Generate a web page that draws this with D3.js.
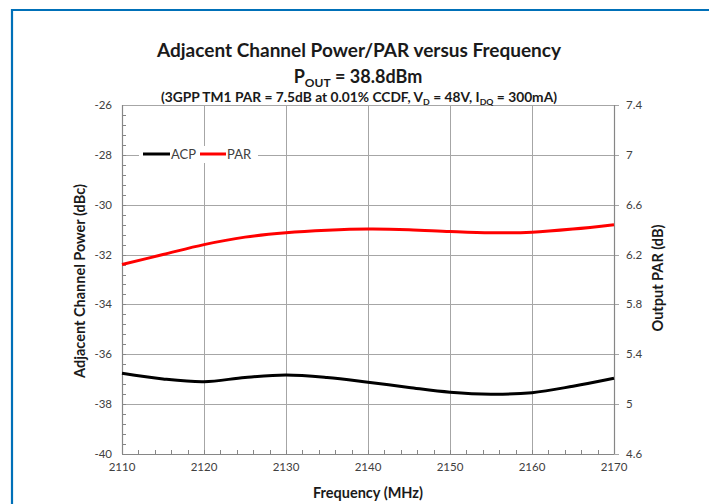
<!DOCTYPE html>
<html><head><meta charset="utf-8">
<script src="https://cdn.jsdelivr.net/npm/d3@7"></script>
<style>body{margin:0;background:#fff}svg{display:block}text{font-family:Lato,"Open Sans",sans-serif}</style>
</head><body><svg id="c" width="709" height="504"></svg>
<script>
const freqs = [2110,2115,2120,2125,2130,2135,2140,2145,2150,2155,2160,2165,2170];
const acp   = [-36.76,-36.99,-37.10,-36.93,-36.83,-36.93,-37.12,-37.33,-37.52,-37.60,-37.54,-37.28,-36.96];
const par   = [6.12,6.20,6.28,6.34,6.375,6.395,6.405,6.40,6.385,6.375,6.38,6.405,6.44];
const xTicks = [2110,2120,2130,2140,2150,2160,2170];
const leftTicks = [-26,-28,-30,-32,-34,-36,-38,-40];
const rightTicks = [7.4,7,6.6,6.2,5.8,5.4,5,4.6];
const seriesNames = ["ACP","PAR"];
const seriesColors = ["#000000","#ff0000"];

const svg = d3.select("#c");
const L=122,R=614,T=105,B=454;
const x = d3.scaleLinear().domain([2110,2170]).range([L,R]);
const yL = d3.scaleLinear().domain([-40,-26]).range([B,T]);
const yR = d3.scaleLinear().domain([4.6,7.4]).range([B,T]);

// frame border
svg.append("path").attr("d","M12,504 L12,10 L709,10").attr("fill","none").attr("stroke","#0070b8").attr("stroke-width",2.2);

const grid = svg.append("g").attr("stroke","#a6a6a6").attr("stroke-width",1);
leftTicks.forEach(v=>{ if(v!==-40) grid.append("line").attr("x1",L).attr("x2",R+5).attr("y1",Math.round(yL(v))+0.5).attr("y2",Math.round(yL(v))+0.5);});
xTicks.forEach(v=>{ if(v!==2110 && v!==2170) grid.append("line").attr("x1",Math.round(x(v))+0.5).attr("x2",Math.round(x(v))+0.5).attr("y1",T).attr("y2",B);});
rightTicks.forEach(v=>grid.append("line").attr("x1",R).attr("x2",R+5).attr("y1",Math.round(yR(v))+0.5).attr("y2",Math.round(yR(v))+0.5));

// minor ticks
const minor = svg.append("g").attr("stroke","#868686").attr("stroke-width",1);
d3.range(-40,-26.01,0.4).forEach(v=>minor.append("line").attr("x1",L).attr("x2",L+4).attr("y1",Math.round(yL(v))+0.5).attr("y2",Math.round(yL(v))+0.5));
d3.range(2110,2170.01,2).forEach(v=>minor.append("line").attr("x1",Math.round(x(v))+0.5).attr("x2",Math.round(x(v))+0.5).attr("y1",B).attr("y2",B-4));

// axis lines
const ax = svg.append("g").attr("stroke","#868686").attr("stroke-width",1.2).attr("fill","none");
ax.append("line").attr("x1",L+0.5).attr("x2",L+0.5).attr("y1",T).attr("y2",B);
ax.append("line").attr("x1",R+0.5).attr("x2",R+0.5).attr("y1",T).attr("y2",B);
ax.append("line").attr("x1",L).attr("x2",R).attr("y1",B+0.5).attr("y2",B+0.5);

// tick labels
const tl = svg.append("g").attr("fill","#404040").attr("font-size",11.5);
leftTicks.forEach(v=>tl.append("text").attr("x",112).attr("y",yL(v)+4).attr("text-anchor","end").text(v));
rightTicks.forEach(v=>tl.append("text").attr("x",626).attr("y",yR(v)+4).attr("text-anchor","start").text(v));
xTicks.forEach(v=>tl.append("text").attr("x",x(v)).attr("y",471).attr("text-anchor","middle").text(v));

// lines
const lineL = d3.line().x((d,i)=>x(freqs[i])).y(d=>yL(d)).curve(d3.curveCatmullRom.alpha(0.5));
const lineR = d3.line().x((d,i)=>x(freqs[i])).y(d=>yR(d)).curve(d3.curveCatmullRom.alpha(0.5));
svg.append("path").attr("d",lineL(acp)).attr("fill","none").attr("stroke",seriesColors[0]).attr("stroke-width",3);
svg.append("path").attr("d",lineR(par)).attr("fill","none").attr("stroke",seriesColors[1]).attr("stroke-width",3);

// legend
const lg = svg.append("g");
lg.append("rect").attr("x",139).attr("y",146).attr("width",119).attr("height",17).attr("fill","#fff");
lg.append("line").attr("x1",143).attr("x2",170).attr("y1",154).attr("y2",154).attr("stroke",seriesColors[0]).attr("stroke-width",3);
lg.append("text").attr("x",171).attr("y",159).attr("font-size",13).attr("fill","#404040").text(seriesNames[0]);
lg.append("line").attr("x1",200).attr("x2",226).attr("y1",154).attr("y2",154).attr("stroke",seriesColors[1]).attr("stroke-width",3);
lg.append("text").attr("x",227).attr("y",159).attr("font-size",13).attr("fill","#404040").text(seriesNames[1]);

// titles
const tt = svg.append("g").attr("font-weight","bold").attr("fill","#1a1a1a").attr("text-anchor","middle");
tt.append("text").attr("x",359).attr("y",57).attr("font-size",19).attr("textLength",404).attr("lengthAdjust","spacingAndGlyphs").text("Adjacent Channel Power/PAR versus Frequency");
const t2 = tt.append("text").attr("x",358).attr("y",83).attr("font-size",18);
t2.append("tspan").text("P");
t2.append("tspan").attr("font-size",12).attr("dy",4).text("OUT");
t2.append("tspan").attr("dy",-4).text(" = 38.8dBm");
const t3 = tt.append("text").attr("x",359).attr("y",102).attr("font-size",12.5).attr("textLength",396).attr("lengthAdjust","spacingAndGlyphs");
t3.append("tspan").text("(3GPP TM1 PAR = 7.5dB at 0.01% CCDF, V");
t3.append("tspan").attr("font-size",8).attr("dy",3).text("D");
t3.append("tspan").attr("dy",-3).text(" = 48V, I");
t3.append("tspan").attr("font-size",8).attr("dy",3).text("DQ");
t3.append("tspan").attr("dy",-3).text(" = 300mA)");

svg.append("text").attr("transform","translate(85,281) rotate(-90)").attr("text-anchor","middle").attr("font-weight","bold").attr("font-size",14.5).attr("fill","#1a1a1a").text("Adjacent Channel Power (dBc)");
svg.append("text").attr("transform","translate(663,278) rotate(-90)").attr("text-anchor","middle").attr("font-weight","bold").attr("font-size",14.5).attr("fill","#1a1a1a").text("Output PAR (dB)");
svg.append("text").attr("x",368).attr("y",498).attr("text-anchor","middle").attr("font-weight","bold").attr("font-size",14.5).attr("fill","#1a1a1a").text("Frequency (MHz)");
</script></body></html>
